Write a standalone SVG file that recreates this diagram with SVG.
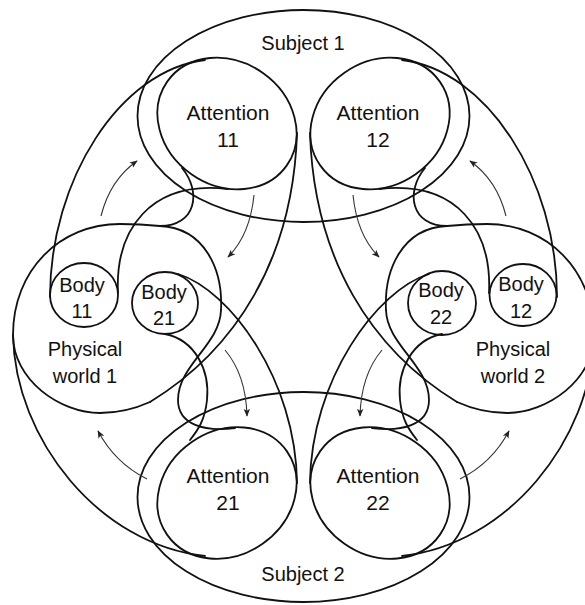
<svg xmlns="http://www.w3.org/2000/svg" width="585" height="605" viewBox="0 0 585 605">
<style>
.ln{fill:none;stroke:#111;stroke-width:1.8;stroke-linecap:round}
.ar{fill:none;stroke:#333;stroke-width:1.1;marker-end:url(#ah)}
text{font-family:"Liberation Sans",Arial,sans-serif;font-size:20px;fill:#111;text-anchor:middle}
.at{font-size:21px}
</style>
<defs>
<marker id="ah" viewBox="0 0 10 10" refX="9" refY="5" markerUnits="userSpaceOnUse" markerWidth="8" markerHeight="8" orient="auto">
<path d="M0,1 L10,5 L0,9 L2.5,5 z" fill="#222"/>
</marker>
</defs>
<rect width="585" height="605" fill="#fff"/>

<g id="subject1"><ellipse class="ln" cx="303.5" cy="116" rx="166" ry="106"/><text x="303" y="50">Subject 1</text></g>
<g id="subject2"><ellipse class="ln" cx="303.5" cy="497" rx="166" ry="105"/><text x="303" y="581">Subject 2</text></g>

<g id="attention11"><ellipse class="ln" cx="227" cy="123.5" rx="73" ry="62" transform="rotate(35 227 123.5)"/><text class="at" x="228" y="120">Attention</text><text class="at" x="228" y="147">11</text></g>
<g id="attention12"><ellipse class="ln" cx="380" cy="123.5" rx="73" ry="62" transform="rotate(-35 380 123.5)"/><text class="at" x="378" y="120">Attention</text><text class="at" x="378" y="147">12</text></g>
<g id="attention21"><ellipse class="ln" cx="227" cy="493" rx="73" ry="62" transform="rotate(-35 227 493)"/><text class="at" x="228" y="483">Attention</text><text class="at" x="228" y="510">21</text></g>
<g id="attention22"><ellipse class="ln" cx="380" cy="493" rx="73" ry="62" transform="rotate(35 380 493)"/><text class="at" x="378" y="483">Attention</text><text class="at" x="378" y="510">22</text></g>

<g id="body11"><ellipse class="ln" cx="84" cy="295" rx="34" ry="32"/><text x="82" y="292">Body</text><text x="82" y="318">11</text></g>
<g id="body21"><ellipse class="ln" cx="165" cy="303" rx="33" ry="31"/><text x="164" y="299">Body</text><text x="164" y="325">21</text></g>
<g id="body22"><ellipse class="ln" cx="442" cy="303" rx="34" ry="32"/><text x="441" y="297">Body</text><text x="441" y="324">22</text></g>
<g id="body12"><ellipse class="ln" cx="523" cy="295" rx="33.5" ry="31"/><text x="521" y="291">Body</text><text x="521" y="318">12</text></g>

<g id="world1"><path class="ln" d="M150,402 C130,411 115,413 100,413 C60,413 13,380 13,335 C13,270 60,224 120,224 C140,224 150,225 160,226 C205,228 223,270 221,310"/><text x="85" y="356">Physical</text><text x="85" y="383">world 1</text></g>
<g id="world2"><path class="ln" d="M457,402 C477,411 492,413 507,413 C547,413 594,380 594,335 C594,270 547,224 487,224 C467,224 457,225 447,226 C402,228 384,270 386,310"/><text x="513" y="356">Physical</text><text x="513" y="383">world 2</text></g>

<g id="connectors">
<!-- left half -->
<path class="ln" d="M205,60 C120,70 50,180 50,297"/>
<path class="ln" d="M118,293 C115,230 150,180 228,189"/>
<path class="ln" d="M297,133 C293,260 235,350 150,402"/>
<path class="ln" d="M182,168 C202,192 196,226 160,226"/>
<path class="ln" d="M221,310 C220,345 178,365 178,400 C178,425 205,432 235,428"/>
<path class="ln" d="M13,335 C15,440 100,545 205,556"/>
<path class="ln" d="M165,334 C195,340 210,370 207,400 C205,420 198,430 190,440"/>
<path class="ln" d="M178,274 C230,290 296,380 297,483"/>
<!-- right half -->
<path class="ln" d="M402,60 C487,70 557,180 557,297"/>
<path class="ln" d="M489,293 C492,230 457,180 379,189"/>
<path class="ln" d="M310,133 C314,260 372,350 457,402"/>
<path class="ln" d="M425,168 C405,192 411,226 447,226"/>
<path class="ln" d="M386,310 C387,345 429,365 429,400 C429,425 402,432 372,428"/>
<path class="ln" d="M594,335 C592,440 507,545 402,556"/>
<path class="ln" d="M442,334 C412,340 397,370 400,400 C402,420 409,430 417,440"/>
<path class="ln" d="M429,274 C377,290 311,380 310,483"/>
<!-- arrows -->
<path class="ar" d="M101,216 Q110,180 137,161"/>
<path class="ar" d="M254,195 Q250,235 228,257"/>
<path class="ar" d="M225,350 Q246,375 247,416"/>
<path class="ar" d="M147,479 Q115,463 98,431"/>
<path class="ar" d="M506,216 Q497,180 470,161"/>
<path class="ar" d="M353,195 Q357,235 379,257"/>
<path class="ar" d="M382,350 Q361,375 360,416"/>
<path class="ar" d="M460,479 Q492,463 509,431"/>
</g>
</svg>
